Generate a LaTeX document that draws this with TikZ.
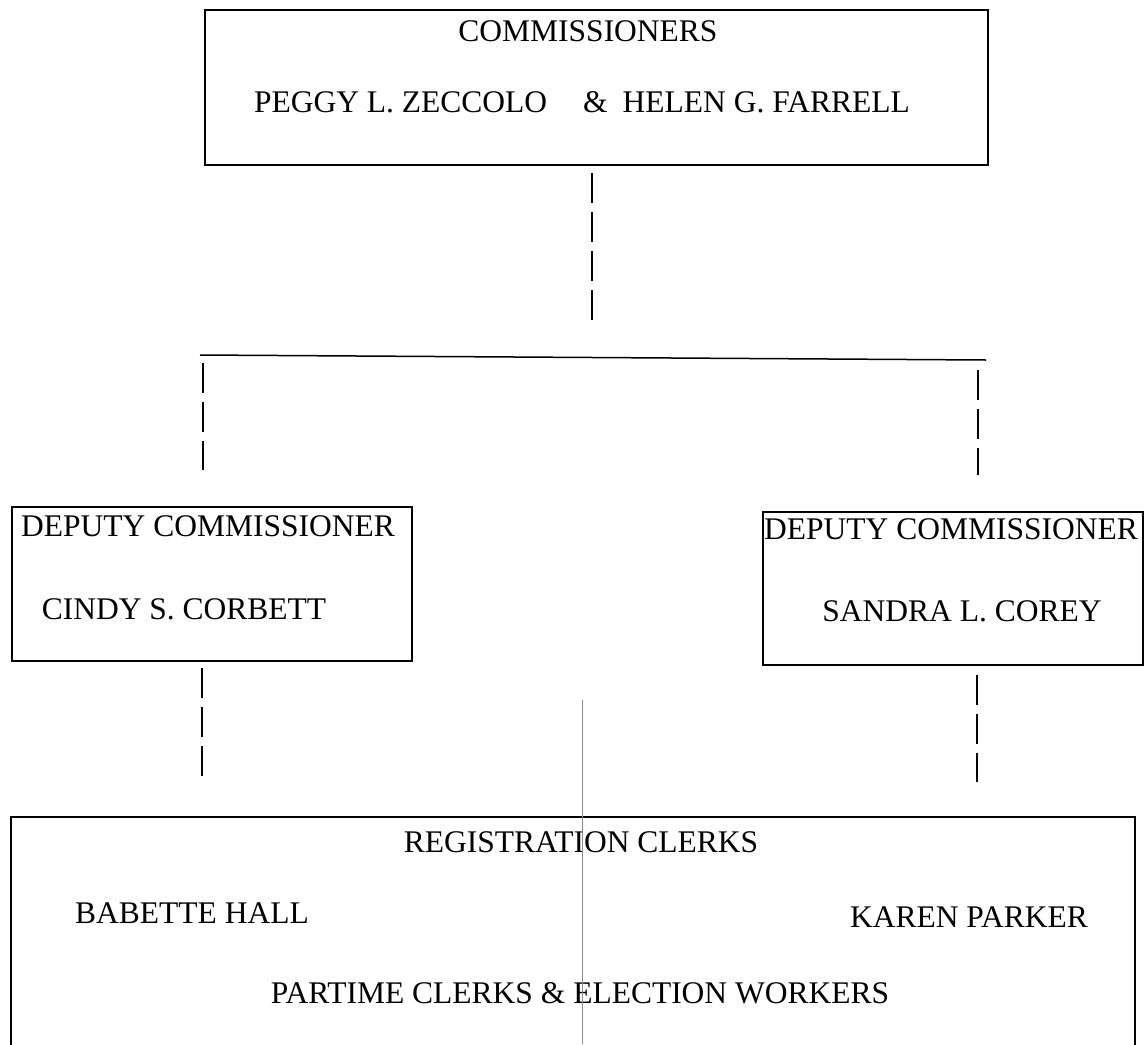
\documentclass[tikz,border=0pt]{standalone}
\usepackage{fontspec}
\setmainfont{Liberation Serif}
\begin{document}
\begin{tikzpicture}[x=1pt,y=-1pt,
  box/.style={draw, line width=1.5pt, inner sep=0pt, outer sep=0pt},
  lbl/.style={inner sep=0pt, anchor=base, font=\fontsize{31.5}{36}\selectfont},
  conn/.style={line width=1.5pt, dash pattern=on 30pt off 9pt},
  solidline/.style={line width=1.5pt},
  scanline/.style={line width=0.8pt, black!45},
]
\clip (0,0) rectangle (1145,1044);
\useasboundingbox (0,0) rectangle (1145,1044);

% boxes
\node[box, minimum width=783pt, minimum height=155pt] (top) at (596.5,87.5) {};
\node[box, minimum width=400pt, minimum height=154pt] (left) at (212,584) {};
\node[box, minimum width=380pt, minimum height=153pt] (right) at (953,588.5) {};
\node[box, minimum width=1124pt, minimum height=263pt] (bottom) at (573,948.5) {};

% texts
\node[lbl] (t1) at (588,41) {COMMISSIONERS};
\node[lbl] (t2) at (582,112) {PEGGY L. ZECCOLO\hspace{36pt}\&\hspace{15pt}HELEN G. FARRELL};
\node[lbl] (l1) at (208,536) {DEPUTY COMMISSIONER};
\node[lbl] (l2) at (184,619) {CINDY S. CORBETT};
\node[lbl] (r1) at (951,539) {DEPUTY COMMISSIONER};
\node[lbl] (r2) at (962,621) {SANDRA L. COREY};
\node[lbl] (b1) at (581,852) {REGISTRATION CLERKS};
\node[lbl] (b2) at (192,923) {BABETTE HALL};
\node[lbl] (b3) at (969,927) {KAREN PARKER};
\node[lbl] (b4) at (580,1003) {PARTIME CLERKS \& ELECTION WORKERS};

% connectors
\coordinate (c1) at (592,320);
\draw[conn, shorten <=8pt] (top.south -| c1) -- (c1);

\coordinate (hl) at (200,355);
\coordinate (hr) at (986,360);
\draw[solidline] (hl) -- (hr);

\coordinate (la) at (203,363);
\coordinate (lb) at (203,470);
\draw[conn] (la) -- (lb);
\coordinate (ra) at (978,370);
\coordinate (rb) at (978,475);
\draw[conn] (ra) -- (rb);

\coordinate (ld) at (202,778);
\draw[conn, shorten <=7pt] (left.south -| ld) -- (ld);
\coordinate (rd) at (977,782);
\draw[conn, shorten <=10pt] (right.south -| rd) -- (rd);

\coordinate (ga) at (582,700);
\coordinate (gb) at (582,1044);
\draw[scanline] (ga) -- (gb);
\end{tikzpicture}
\end{document}
